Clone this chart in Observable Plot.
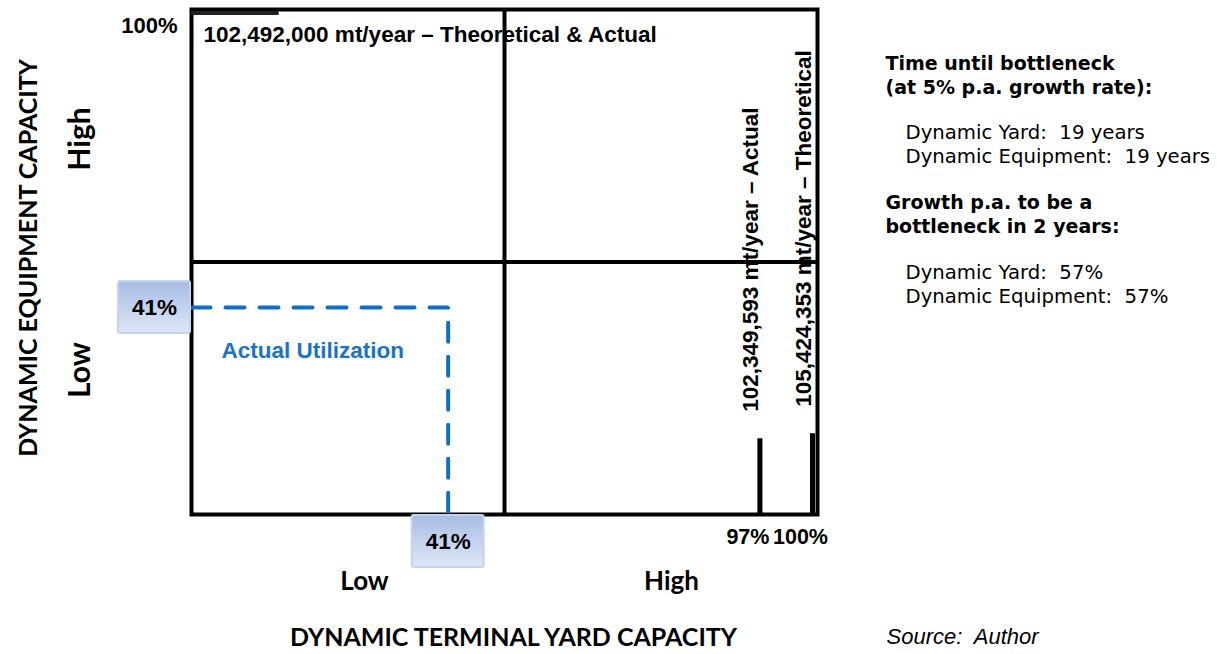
<!DOCTYPE html>
<html>
<head>
<meta charset="utf-8">
<script src="https://cdn.jsdelivr.net/npm/d3@7"></script>
<script src="https://cdn.jsdelivr.net/npm/@observablehq/plot@0.6"></script>
<style>
  html, body { margin: 0; padding: 0; background: #fff; }
  svg { display: block; }
</style>
</head>
<body>
<div id="chart"></div>
<script>
// ---------- data ----------
const xLevels = ["Low", "High"];
const yLevels = ["High", "Low"];
const xTitle = "DYNAMIC TERMINAL YARD CAPACITY";
const yTitle = "DYNAMIC EQUIPMENT CAPACITY";

const utilization = 41;                 // actual utilization (%)
const utilizationLabel = "Actual Utilization";

const yardMarkerPct = [97, 100];        // yard capacity markers (%)
const yardMarkerHeight = [15, 16];      // marker bar heights (% of axis)
const yardMarkerLabels = ["102,349,593 mt/year \u2013 Actual", "105,424,353 mt/year \u2013 Theoretical"];

const equipMarkerPct = [100];           // equipment capacity marker (%)
const equipMarkerLength = [14];         // marker bar length (% of axis)
const equipMarkerLabels = ["102,492,000 mt/year \u2013 Theoretical & Actual"];

const panelHead1 = "Time until bottleneck\n(at 5% p.a. growth rate):";
const panelBody1 = "Dynamic Yard:\u00a0 19 years\nDynamic Equipment:\u00a0 19 years";
const panelHead2 = "Growth p.a. to be a\nbottleneck in 2 years:";
const panelBody2 = "Dynamic Yard:\u00a0 57%\nDynamic Equipment:\u00a0 57%";
const sourceNote = "Source:\u00a0 Author";

// ---------- layout ----------
const W = 1217, H = 654;
const ML = 191, MR = 400, MT = 9, MB = 140;
const PW = W - ML - MR;

const yardMarkers = yardMarkerPct.map((p, i) => ({pct: p, h: yardMarkerHeight[i], label: yardMarkerLabels[i]}));
const equipMarkers = equipMarkerPct.map((p, i) => ({pct: p, len: equipMarkerLength[i], label: equipMarkerLabels[i]}));
const utilPath = [
  {x: 0, y: utilization},
  {x: utilization, y: utilization},
  {x: utilization, y: 0}
];

const helv = "'Liberation Sans', Arial, Helvetica, sans-serif";
const calib = "Lato, 'Open Sans', sans-serif";
const verd = "'DejaVu Sans', Verdana, sans-serif";
const blue = "#0f6fc4";
const HS = 22.5;

const BW = 74, BH = 54;
function utilBoxes(index, scales) {
  const g = d3.create("svg:g");
  const defs = g.append("defs");
  const grad = defs.append("linearGradient").attr("id", "boxGrad")
    .attr("x1", 0).attr("y1", 0).attr("x2", 0).attr("y2", 1);
  grad.append("stop").attr("offset", "0%").attr("stop-color", "#a7bce6");
  grad.append("stop").attr("offset", "100%").attr("stop-color", "#dee7f6");
  const x0 = scales.x(0), y0 = scales.y(0);
  const xu = scales.x(utilization), yu = scales.y(utilization);
  const boxes = [
    {x: x0 - BW, y: yu - BH / 2},
    {x: xu - BW / 2, y: y0}
  ];
  for (const b of boxes) {
    g.append("rect")
      .attr("x", b.x + 1).attr("y", b.y + 1)
      .attr("width", BW - 2).attr("height", BH - 2)
      .attr("rx", 2)
      .attr("fill", "url(#boxGrad)")
      .attr("stroke", "#c4d3ee").attr("stroke-width", 2);
  }
  return g.node();
}

const plot = Plot.plot({
  width: W,
  height: H,
  marginLeft: ML,
  marginRight: MR,
  marginTop: MT,
  marginBottom: MB,
  style: {background: "#fff", overflow: "visible"},
  // schematic (not-to-scale) yard axis, as in the original figure
  x: {type: "linear", domain: [0, 50, 97, 100], range: [ML, ML + 0.5 * PW, ML + 0.908 * PW, ML + 0.992 * PW], axis: null},
  y: {type: "linear", domain: [0, 100], axis: null},
  marks: [
    // quadrant grid
    Plot.ruleX([50], {stroke: "#000", strokeWidth: 4}),
    Plot.ruleY([50], {stroke: "#000", strokeWidth: 4}),
    Plot.frame({stroke: "#000", strokeWidth: 4}),

    // equipment capacity marker (top)
    Plot.ruleY(equipMarkers, {y: "pct", x1: 0, x2: "len", stroke: "#222", strokeWidth: 4, dy: 3.5}),
    Plot.text(equipMarkers, {x: 0, y: "pct", text: "label", textAnchor: "start", lineAnchor: "middle", dx: 12, dy: 25,
      fontFamily: helv, fontWeight: "bold", fontSize: HS, fill: "#000"}),
    Plot.text(equipMarkers, {x: 0, y: "pct", text: d => d.pct + "%", textAnchor: "end", lineAnchor: "middle", dx: -14, dy: 16,
      fontFamily: helv, fontWeight: "bold", fontSize: 22, fill: "#000"}),

    // yard capacity markers (right)
    Plot.ruleX(yardMarkers, {x: "pct", y1: 0, y2: "h", stroke: "#000", strokeWidth: 5}),
    Plot.text(yardMarkers, {x: "pct", y: "h", text: "label", rotate: -90, textAnchor: "start", lineAnchor: "middle", dx: -9, dy: -27,
      fontFamily: helv, fontWeight: "bold", fontSize: HS, fill: "#000"}),
    Plot.text(yardMarkers, {x: "pct", y: 0, text: d => d.pct + "%", lineAnchor: "middle", dx: -12, dy: 23,
      fontFamily: helv, fontWeight: "bold", fontSize: 21.5, fill: "#000"}),

    // utilization
    Plot.line(utilPath, {x: "x", y: "y", stroke: blue, strokeWidth: 4, strokeDasharray: "19,15", strokeLinejoin: "miter"}),
    utilBoxes,
    Plot.text([utilization], {x: 0, y: d => d, text: d => d + "%", lineAnchor: "middle", dx: -BW / 2,
      fontFamily: helv, fontWeight: "bold", fontSize: HS, fill: "#000"}),
    Plot.text([utilization], {x: d => d, y: 0, text: d => d + "%", lineAnchor: "middle", dy: BH / 2,
      fontFamily: helv, fontWeight: "bold", fontSize: HS, fill: "#000"}),
    Plot.text([utilizationLabel], {x: 0, y: utilization, text: d => d, textAnchor: "start", lineAnchor: "middle", dx: 30, dy: 43,
      fontFamily: helv, fontWeight: "bold", fontSize: HS, fill: "#1a72c4"}),

    // x axis level labels and title
    Plot.text([xLevels[0]], {frameAnchor: "bottom", text: d => d, textAnchor: "middle", lineAnchor: "middle", dx: -140, dy: 67,
      fontFamily: calib, fontWeight: "bold", fontSize: 26, fill: "#000"}),
    Plot.text([xLevels[1]], {frameAnchor: "bottom", text: d => d, textAnchor: "middle", lineAnchor: "middle", dx: 167, dy: 67,
      fontFamily: calib, fontWeight: "bold", fontSize: 26, fill: "#000"}),
    Plot.text([xTitle], {frameAnchor: "bottom", text: d => d, textAnchor: "middle", lineAnchor: "middle", dx: 9, dy: 123,
      fontFamily: calib, fontWeight: "bold", fontSize: 25, fill: "#000"}),

    // y axis level labels and title
    Plot.text([yLevels[0]], {frameAnchor: "left", text: d => d, rotate: -90, textAnchor: "middle", lineAnchor: "middle", dx: -111, dy: -123,
      fontFamily: calib, fontWeight: "bold", fontSize: 30, fill: "#000"}),
    Plot.text([yLevels[1]], {frameAnchor: "left", text: d => d, rotate: -90, textAnchor: "middle", lineAnchor: "middle", dx: -111, dy: 108,
      fontFamily: calib, fontWeight: "bold", fontSize: 30, fill: "#000"}),
    Plot.text([yTitle], {frameAnchor: "left", text: d => d, rotate: -90, textAnchor: "middle", lineAnchor: "middle", dx: -163, dy: -4,
      fontFamily: calib, fontWeight: "bold", fontSize: 25, fill: "#000"}),

    // right-hand panel
    Plot.text([panelHead1], {frameAnchor: "top-right", text: d => d, textAnchor: "start", lineAnchor: "middle", lineHeight: 1.27, dx: 68, dy: 65,
      fontFamily: verd, fontWeight: "bold", fontSize: 19, fill: "#000"}),
    Plot.text([panelBody1], {frameAnchor: "top-right", text: d => d, textAnchor: "start", lineAnchor: "middle", lineHeight: 1.23, dx: 88, dy: 134,
      fontFamily: verd, fontSize: 19.7, fill: "#000"}),
    Plot.text([panelHead2], {frameAnchor: "top-right", text: d => d, textAnchor: "start", lineAnchor: "middle", lineHeight: 1.27, dx: 68, dy: 204,
      fontFamily: verd, fontWeight: "bold", fontSize: 19, fill: "#000"}),
    Plot.text([panelBody2], {frameAnchor: "top-right", text: d => d, textAnchor: "start", lineAnchor: "middle", lineHeight: 1.23, dx: 88, dy: 274,
      fontFamily: verd, fontSize: 19.7, fill: "#000"}),

    // source
    Plot.text([sourceNote], {frameAnchor: "bottom-right", text: d => d, textAnchor: "start", lineAnchor: "middle", dx: 69, dy: 122,
      fontFamily: helv, fontStyle: "italic", fontSize: 22, fill: "#000"})
  ]
});

document.getElementById("chart").appendChild(plot);
</script>
</body>
</html>
